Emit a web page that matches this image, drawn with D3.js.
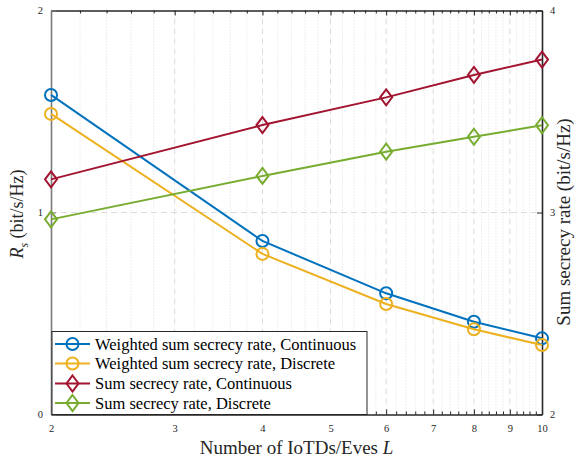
<!DOCTYPE html>
<html>
<head>
<meta charset="utf-8">
<script src="https://cdn.jsdelivr.net/npm/d3@7"></script>
<style>
  html, body { margin: 0; padding: 0; background: #fff; }
  svg { display: block; }
  svg text { font-family: "Liberation Serif", "Times New Roman", "Liberation Sans", serif; }
</style>
</head>
<body>
<svg id="chart" width="575" height="459"></svg>
<script>
// Number of IoTDs / Eves
const L = [2, 4, 6, 8, 10];

// Weighted sum secrecy rate (left axis, bit/s/Hz)
const wsrContinuous = [1.582, 0.859, 0.600, 0.459, 0.377];
const wsrDiscrete   = [1.488, 0.795, 0.547, 0.422, 0.344];

// Sum secrecy rate (right axis, bit/s/Hz)
const ssrContinuous = [3.164, 3.433, 3.570, 3.681, 3.757];
const ssrDiscrete   = [2.966, 3.181, 3.301, 3.375, 3.432];

const xTicks = [2, 3, 4, 5, 6, 7, 8, 9, 10];
const leftTicks = [0, 1, 2];
const rightTicks = [2, 3, 4];

const seriesNames = [
  "Weighted sum secrecy rate, Continuous",
  "Weighted sum secrecy rate, Discrete",
  "Sum secrecy rate, Continuous",
  "Sum secrecy rate, Discrete"
];

const colors = { blue: "#0072BD", yellow: "#EDB120", red: "#A2142F", green: "#77AC30" };
const FONT = "'Liberation Serif', 'Times New Roman', 'Liberation Sans', serif";

const margin = { left: 51, right: 33, top: 10.5, bottom: 44.5 };
const W = 575, H = 459;
const x0 = margin.left, x1 = W - margin.right;
const y0 = H - margin.bottom, y1 = margin.top;

const svg = d3.select("#chart");

const x = d3.scaleLog().domain([2, 10]).range([x0, x1]);
const yL = d3.scaleLinear().domain([0, 2]).range([y0, y1]);
const yR = d3.scaleLinear().domain([2, 4]).range([y0, y1]);

// minor ticks every 0.2 along the log axis
const minorTicks = d3.range(2, 10.0001, 0.2)
  .map(v => +v.toFixed(1))
  .filter(v => !xTicks.includes(v));

// grid
const grid = svg.append("g");
grid.selectAll("line.minor").data(minorTicks).join("line")
  .attr("x1", d => x(d)).attr("x2", d => x(d))
  .attr("y1", y0).attr("y2", y1)
  .attr("stroke", "#d6d6d6").attr("stroke-width", 0.8)
  .attr("stroke-dasharray", "1,2");
grid.selectAll("line.major").data(xTicks.slice(1, -1)).join("line")
  .attr("x1", d => x(d)).attr("x2", d => x(d))
  .attr("y1", y0).attr("y2", y1)
  .attr("stroke", "#dcdcdc").attr("stroke-width", 1)
  .attr("stroke-dasharray", "6,4");
grid.append("line")
  .attr("x1", x0).attr("x2", x1)
  .attr("y1", yL(1)).attr("y2", yL(1))
  .attr("stroke", "#dcdcdc").attr("stroke-width", 1)
  .attr("stroke-dasharray", "6,4");

// axes (ticks pointing inward)
const fmt = d3.format("d");
const bottomAxis = d3.axisBottom(x).tickValues(xTicks).tickFormat(fmt).tickSizeInner(-5).tickSizeOuter(0).tickPadding(10);
const topAxis = d3.axisTop(x).tickValues(xTicks).tickFormat("").tickSizeInner(-5).tickSizeOuter(0);
const bottomMinor = d3.axisBottom(x).tickValues(minorTicks).tickFormat("").tickSizeInner(-3).tickSizeOuter(0);
const topMinor = d3.axisTop(x).tickValues(minorTicks).tickFormat("").tickSizeInner(-3).tickSizeOuter(0);
const leftAxis = d3.axisLeft(yL).tickValues(leftTicks).tickFormat(fmt).tickSizeInner(-5).tickSizeOuter(0).tickPadding(8);
const rightAxis = d3.axisRight(yR).tickValues(rightTicks).tickFormat(fmt).tickSizeInner(-5).tickSizeOuter(0).tickPadding(8);

function styleAxis(g, color) {
  g.attr("font-family", FONT);
  g.select(".domain").attr("stroke", color).attr("stroke-width", 1);
  g.selectAll(".tick line").attr("stroke", color).attr("stroke-width", 1);
  g.selectAll(".tick text").attr("fill", "#262626").attr("font-size", 10.5);
}

svg.append("g").attr("transform", `translate(0,${y0})`).call(bottomMinor).call(g => styleAxis(g, "#262626"));
svg.append("g").attr("transform", `translate(0,${y1})`).call(topMinor).call(g => styleAxis(g, "#262626"));
svg.append("g").attr("transform", `translate(0,${y0})`).call(bottomAxis).call(g => styleAxis(g, "#262626"));
svg.append("g").attr("transform", `translate(0,${y1})`).call(topAxis).call(g => styleAxis(g, "#262626"));
svg.append("g").attr("transform", `translate(${x0},0)`).call(leftAxis).call(g => styleAxis(g, "#7a7a7a"))
  .call(g => g.select(".domain").attr("stroke-width", 1.6));
svg.append("g").attr("transform", `translate(${x1},0)`).call(rightAxis).call(g => styleAxis(g, "#262626"))
  .call(g => g.select(".domain").attr("stroke-width", 1.6));

// series
const series = [
  { name: seriesNames[0], vals: wsrContinuous, y: yL, color: colors.blue, marker: "circle" },
  { name: seriesNames[1], vals: wsrDiscrete, y: yL, color: colors.yellow, marker: "circle" },
  { name: seriesNames[2], vals: ssrContinuous, y: yR, color: colors.red, marker: "diamond" },
  { name: seriesNames[3], vals: ssrDiscrete, y: yR, color: colors.green, marker: "diamond" }
];

const diamondPath = "M0,-8L6,0L0,8L-6,0Z";

function drawMarker(g, type, color) {
  if (type === "circle") {
    g.append("circle").attr("r", 6).attr("fill", "none")
      .attr("stroke", color).attr("stroke-width", 2);
  } else {
    g.append("path").attr("d", diamondPath).attr("fill", "none")
      .attr("stroke", color).attr("stroke-width", 2).attr("stroke-linejoin", "miter");
  }
}

const plot = svg.append("g");
series.forEach(s => {
  const pts = L.map((l, i) => [x(l), s.y(s.vals[i])]);
  plot.append("path")
    .attr("d", d3.line()(pts))
    .attr("fill", "none").attr("stroke", s.color).attr("stroke-width", 2);
  pts.forEach(p => {
    const g = plot.append("g").attr("transform", `translate(${p[0]},${p[1]})`);
    drawMarker(g, s.marker, s.color);
  });
});

// legend
const lg = svg.append("g");
lg.append("rect")
  .attr("x", 52).attr("y", 331.5).attr("width", 315).attr("height", 83)
  .attr("fill", "#fff").attr("stroke", "#262626").attr("stroke-width", 1);
const rowY = [344, 363.5, 383.5, 403];
series.forEach((s, i) => {
  const yy = rowY[i];
  lg.append("line").attr("x1", 55).attr("x2", 90).attr("y1", yy).attr("y2", yy)
    .attr("stroke", s.color).attr("stroke-width", 2);
  const g = lg.append("g").attr("transform", `translate(72.5,${yy})`);
  drawMarker(g, s.marker, s.color);
  lg.append("text").attr("x", 95).attr("y", yy + 5.5)
    .attr("font-size", 16.5).attr("fill", "#000").text(s.name);
});

// axis titles
const xt = svg.append("text")
  .attr("x", (x0 + x1) / 2).attr("y", 454)
  .attr("text-anchor", "middle").attr("font-size", 19).attr("fill", "#262626");
xt.append("tspan").text("Number of IoTDs/Eves ");
xt.append("tspan").attr("font-style", "italic").text("L");

const ylt = svg.append("text")
  .attr("transform", `translate(23,214) rotate(-90)`)
  .attr("text-anchor", "middle").attr("font-size", 18).attr("fill", "#262626");
ylt.append("tspan").attr("font-style", "italic").text("R");
ylt.append("tspan").attr("font-size", 12).attr("dy", 5).attr("font-style", "italic").text("s");
ylt.append("tspan").attr("dy", -5).text(" (bit/s/Hz)");

svg.append("text")
  .attr("transform", `translate(569.5,222) rotate(-90)`)
  .attr("text-anchor", "middle").attr("font-size", 19).attr("fill", "#262626")
  .text("Sum secrecy rate (bit/s/Hz)");
</script>
</body>
</html>
